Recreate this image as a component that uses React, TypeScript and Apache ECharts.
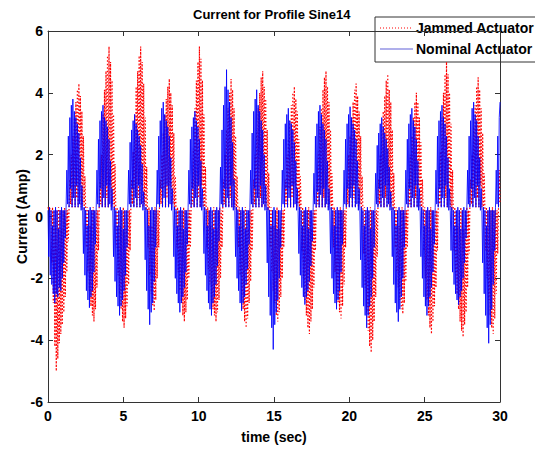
import React, { useEffect, useRef } from "react";
import * as echarts from "echarts";

// sampling step of the recorded signals (s)
const DT = 0.05;
const X_MIN = 0;
const X_MAX = 30;
const X_STEP = 5;
const Y_MIN = -6;
const Y_MAX = 6;
const Y_STEP = 2;

const TITLE = "Current for Profile Sine14";
const X_NAME = "time (sec)";
const Y_NAME = "Current (Amp)";
const SERIES_NAMES = ["Jammed Actuator", "Nominal Actuator"];

// Nominal actuator current (Amp), one row per half-cycle lobe
const nominal = [
  0.2,-1.3,0.3,-1.9,0.2,-2.2,-0.3,-2.5,0.2,-2.8,0.3,-2.5,0.2,-2.6,-0.4,-2.3,0.2,-2.4,0.3,-2.0,0.2,-1.5,0.2,-0.7,
  0.3,1.5,0.4,2.6,0.3,3.2,0.9,3.6,0.3,3.8,0.6,3.4,0.3,3.2,1.0,3.0,0.3,2.7,0.4,1.9,0.2,1.0,
  0.2,-1.2,0.3,-1.9,0.2,-2.4,-0.3,-2.7,0.2,-2.95,0.3,-2.6,0.2,-2.4,0.2,-1.8,0.2,-0.9,
  0.3,1.5,0.4,2.5,0.3,3.1,0.9,3.4,0.3,3.6,0.6,3.2,0.3,3.1,1.0,2.9,0.3,2.5,0.4,1.8,0.2,0.9,
  0.2,-1.3,0.3,-2.1,0.2,-2.6,-0.3,-2.9,0.2,-3.2,0.3,-2.9,0.2,-2.7,-0.4,-2.4,0.2,-1.9,0.2,-1.0,
  0.3,1.5,0.4,2.4,0.3,2.8,0.9,3.1,0.3,3.3,0.6,3.0,0.3,2.8,1.0,2.6,0.3,2.3,0.4,1.7,0.2,0.8,
  0.2,-1.4,0.3,-2.4,0.2,-3.0,-0.3,-3.5,0.2,-3.1,0.3,-2.8,0.2,-2.1,0.2,-1.0,
  0.3,1.5,0.4,2.6,0.3,3.1,0.9,3.5,0.3,3.7,0.6,3.3,0.3,3.1,1.0,2.9,0.3,2.6,0.4,1.9,0.2,0.9,
  0.2,-1.3,0.3,-2.0,0.2,-2.5,-0.3,-2.8,0.2,-3.1,0.3,-2.8,0.2,-2.6,-0.4,-2.3,0.2,-1.8,0.2,-0.9,
  0.3,1.5,0.4,2.5,0.3,2.9,0.9,3.2,0.3,3.4,0.6,3.1,0.3,2.9,1.0,2.5,0.3,1.8,0.2,0.9,
  0.2,-1.2,0.3,-1.9,0.2,-2.4,-0.3,-2.8,0.2,-3.0,0.3,-3.2,0.2,-2.8,-0.4,-2.6,0.2,-2.2,0.3,-1.6,0.2,-0.8,
  0.3,1.6,0.4,2.8,0.3,3.6,0.9,4.2,0.3,4.75,0.6,4.1,0.3,3.7,1.0,3.2,0.3,2.4,0.2,1.2,
  0.2,-1.3,0.3,-2.0,0.2,-2.4,-0.3,-2.8,0.2,-3.05,0.3,-2.8,0.2,-2.6,-0.4,-2.2,0.2,-1.7,0.2,-0.9,
  0.3,1.5,0.4,2.7,0.3,3.4,0.9,3.8,0.3,4.1,0.6,3.6,0.3,3.4,1.0,3.1,0.3,2.8,0.4,2.0,0.2,1.0,
  0.2,-1.5,0.3,-2.6,0.2,-3.2,-0.3,-3.6,0.2,-4.3,0.3,-3.5,0.2,-3.1,-0.4,-2.7,0.2,-2.0,0.2,-1.0,
  0.3,1.5,0.4,2.5,0.3,3.0,0.9,3.3,0.3,3.5,0.6,3.1,0.3,3.0,1.0,2.8,0.3,2.4,0.4,1.8,0.2,0.9,
  0.2,-1.2,0.3,-1.9,0.2,-2.3,-0.3,-2.6,0.2,-2.85,0.3,-2.6,0.2,-2.4,-0.4,-2.1,0.2,-1.6,0.2,-0.8,
  0.3,1.4,0.4,2.6,0.3,3.0,0.8,3.4,0.3,3.6,0.7,3.3,0.3,3.0,0.9,2.8,0.3,2.5,0.4,1.8,0.2,0.9,
  0.2,-1.2,0.3,-2.0,0.2,-2.5,-0.3,-2.8,0.2,-3.0,0.3,-2.7,0.2,-2.4,0.2,-1.8,0.2,-0.9,
  0.3,1.5,0.4,2.5,0.3,3.0,0.9,3.3,0.3,3.55,0.6,3.2,0.3,3.0,1.0,2.8,0.3,2.5,0.4,1.8,0.2,0.9,
  0.2,-1.4,0.3,-2.3,0.2,-2.9,-0.3,-3.2,0.2,-3.6,0.3,-3.2,0.2,-2.9,-0.4,-2.6,0.2,-2.0,0.2,-1.0,
  0.3,1.4,0.4,2.3,0.3,2.7,0.9,3.0,0.3,3.2,0.6,2.9,0.3,2.7,1.0,2.5,0.3,2.2,0.4,1.6,0.2,0.8,
  0.2,-1.3,0.3,-2.2,0.2,-2.8,-0.3,-3.1,0.2,-3.4,0.3,-3.0,0.2,-2.6,0.2,-2.0,0.2,-1.0,
  0.3,1.5,0.4,2.5,0.3,3.0,0.9,3.3,0.3,3.5,0.6,3.1,0.3,2.9,1.0,2.5,0.3,1.8,0.2,0.9,
  0.2,-1.3,0.3,-2.0,0.2,-2.6,-0.3,-2.9,0.2,-3.2,0.3,-2.9,0.2,-2.6,-0.4,-2.3,0.2,-1.8,0.2,-0.9,
  0.3,1.5,0.4,2.6,0.3,3.1,0.9,3.4,0.3,3.6,0.6,3.2,0.3,3.0,1.0,2.6,0.3,1.9,0.2,0.9,
  0.2,-1.1,0.3,-1.8,0.2,-2.2,-0.3,-2.5,0.2,-2.7,0.3,-2.85,0.2,-2.6,-0.4,-2.4,0.2,-2.0,0.3,-1.5,0.2,-0.7,
  0.3,1.5,0.4,2.6,0.3,3.1,0.9,3.5,0.3,3.7,0.6,3.3,0.3,3.1,1.0,2.6,0.3,1.9,0.2,0.9,
  0.2,-1.5,0.3,-2.5,0.2,-3.2,-0.3,-3.6,0.2,-4.1,0.3,-3.5,0.2,-3.0,0.2,-2.2,0.2,-1.1,
  0.3,1.5,0.4,2.6,0.3,3.2,3.7,
];

// Jammed actuator current (Amp), lags the nominal one slightly
const jammed = [
  0.3,0.2,0.3,0.2,
  0.2,-1.5,0.3,-2.8,0.2,-4.2,-0.3,-5.0,0.2,-4.6,0.3,-4.1,0.2,-3.8,-0.4,-3.5,0.2,-3.1,0.3,-2.6,0.2,-1.8,0.2,-0.8,
  0.3,1.2,0.4,2.0,0.3,2.6,0.9,3.2,0.3,3.7,0.6,4.1,0.3,4.3,1.0,3.9,0.3,3.4,0.4,2.6,0.2,1.3,
  0.2,-1.0,0.3,-1.8,0.2,-2.4,-0.3,-2.9,0.2,-3.2,0.3,-3.4,0.2,-3.0,0.2,-2.3,0.2,-1.1,
  0.3,1.2,0.4,2.0,0.3,3.3,0.9,4.1,0.3,4.7,0.6,5.2,0.3,5.5,1.0,5.0,0.3,4.4,0.4,3.3,0.2,1.7,
  0.2,-1.0,0.3,-1.9,0.2,-2.5,-0.3,-3.0,0.2,-3.4,0.3,-3.6,0.2,-3.3,-0.4,-2.9,0.2,-2.2,0.2,-1.1,
  0.3,1.2,0.4,2.1,0.3,3.3,0.9,4.2,0.3,4.7,0.6,5.2,0.3,5.5,1.0,5.0,0.3,4.3,0.4,3.2,0.2,1.6,
  0.2,-1.0,0.3,-1.9,0.2,-2.5,-0.3,-2.9,0.2,-3.05,0.3,-2.7,0.2,-2.0,0.2,-1.0,
  0.3,1.2,0.4,2.0,0.3,2.7,0.9,3.3,0.3,3.8,0.6,4.2,0.3,4.45,1.0,4.0,0.3,3.6,0.4,2.7,0.2,1.3,
  0.2,-1.0,0.3,-1.8,0.2,-2.4,-0.3,-2.8,0.2,-3.2,0.3,-3.4,0.2,-3.1,-0.4,-2.7,0.2,-2.0,0.2,-1.0,
  0.3,1.2,0.4,2.2,0.3,3.5,0.9,4.4,0.3,5.0,0.6,5.5,0.3,5.1,1.0,4.4,0.3,3.3,0.2,1.6,
  0.2,-1.0,0.3,-1.7,0.2,-2.2,-0.3,-2.7,0.2,-3.0,0.3,-3.2,0.2,-3.4,-0.4,-3.1,0.2,-2.7,0.3,-2.0,0.2,-1.0,
  0.3,1.2,0.4,2.0,0.3,2.8,0.9,3.5,0.3,4.0,0.6,4.45,0.3,4.1,1.0,3.5,0.3,2.6,0.2,1.3,
  0.2,-1.0,0.3,-1.9,0.2,-2.5,-0.3,-3.0,0.2,-3.4,0.3,-3.6,0.2,-3.3,-0.4,-2.8,0.2,-2.1,0.2,-1.1,
  0.3,1.2,0.4,2.0,0.3,2.8,0.9,3.5,0.3,4.0,0.6,4.5,0.3,4.7,1.0,4.2,0.3,3.8,0.4,2.8,0.2,1.4,
  0.2,-1.0,0.3,-1.8,0.2,-2.4,-0.3,-2.8,0.2,-3.2,0.3,-3.4,0.2,-3.1,-0.4,-2.6,0.2,-2.0,0.2,-1.0,
  0.3,1.2,0.4,2.0,0.3,2.5,0.9,3.1,0.3,3.6,0.6,4.0,0.3,4.2,1.0,3.8,0.3,3.4,0.4,2.5,0.2,1.3,
  0.2,-1.1,0.3,-2.0,0.2,-2.7,-0.3,-3.2,0.2,-3.6,0.3,-3.8,0.2,-3.4,-0.4,-3.0,0.2,-2.3,0.2,-1.1,
  0.3,1.2,0.4,2.1,0.3,2.9,0.9,3.5,0.3,4.1,0.6,4.5,0.3,4.7,1.0,4.2,0.3,3.7,0.4,2.8,0.2,1.4,
  0.2,-1.0,0.3,-1.8,0.2,-2.4,-0.3,-2.8,0.2,-3.1,0.3,-3.3,0.2,-2.9,0.2,-2.2,0.2,-1.0,
  0.3,1.2,0.4,2.0,0.3,2.6,0.9,3.2,0.3,3.7,0.6,4.1,0.3,4.3,1.0,3.9,0.3,3.4,0.4,2.6,0.2,1.3,
  0.2,-1.2,0.3,-2.3,0.2,-3.1,-0.3,-3.7,0.2,-4.2,0.3,-4.4,0.2,-4.0,-0.4,-3.4,0.2,-2.6,0.2,-1.3,
  0.3,1.2,0.4,2.0,0.3,2.8,0.9,3.4,0.3,3.9,0.6,4.4,0.3,4.6,1.0,4.1,0.3,3.7,0.4,2.8,0.2,1.4,
  0.2,-1.0,0.3,-1.8,0.2,-2.3,-0.3,-2.7,0.2,-3.0,0.3,-3.15,0.2,-2.8,0.2,-2.1,0.2,-1.0,
  0.3,1.2,0.4,2.0,0.3,2.6,0.9,3.2,0.3,3.7,0.6,4.0,0.3,3.7,1.0,3.2,0.3,2.4,0.2,1.2,
  0.2,-1.1,0.3,-2.0,0.2,-2.7,-0.3,-3.2,0.2,-3.6,0.3,-3.8,0.2,-3.4,-0.4,-2.9,0.2,-2.3,0.2,-1.1,
  0.3,1.2,0.4,2.1,0.3,3.2,0.9,4.0,0.3,4.6,0.6,5.0,0.3,4.6,1.0,4.0,0.3,3.0,0.2,1.5,
  0.2,-1.1,0.3,-1.9,0.2,-2.5,-0.3,-3.0,0.2,-3.4,0.3,-3.7,0.2,-3.9,-0.4,-3.5,0.2,-3.1,0.3,-2.3,0.2,-1.2,
  0.3,1.2,0.4,2.0,0.3,2.9,0.9,3.6,0.3,4.2,0.6,4.5,0.3,4.1,1.0,3.5,0.3,2.7,0.2,1.4,
  0.2,-1.1,0.3,-2.0,0.2,-2.7,-0.3,-3.2,0.2,-3.6,0.3,-3.8,0.2,-3.3,0.2,-2.5,0.2,-1.2,
  0.3,1.5,0.4,
];

const FONT = "Liberation Sans, Arial, Helvetica, sans-serif";
const RED = "#ff0000";
const BLUE = "#0000ff";
const AXIS = "#333333";

export default function App() {
  const ref = useRef<HTMLDivElement>(null);

  useEffect(() => {
    if (!ref.current) return;
    const chart = echarts.init(ref.current, undefined, { renderer: "svg" });
    const toPairs = (arr: number[]) => arr.map((v, i) => [+(i * DT).toFixed(2), v]);

    const labelStyle = { color: "#000", fontFamily: FONT, fontWeight: "bold" as const, fontSize: 14 };
    const tickStyle = { show: true, inside: true, length: 5, lineStyle: { color: AXIS } };
    const lineAxis = { show: true, onZero: false, lineStyle: { color: AXIS, width: 1 } };

    chart.setOption({
      animation: false,
      backgroundColor: "#fff",
      grid: { left: 48, right: 35, top: 31, bottom: 37, containLabel: false },
      xAxis: [
        {
          type: "value", min: X_MIN, max: X_MAX, interval: X_STEP, position: "bottom",
          axisLine: lineAxis, axisTick: tickStyle, splitLine: { show: false },
          axisLabel: { ...labelStyle, margin: 7 },
          name: X_NAME, nameLocation: "middle", nameGap: 28, nameMoveOverlap: false,
          nameTextStyle: { ...labelStyle },
        },
        {
          type: "value", min: X_MIN, max: X_MAX, interval: X_STEP, position: "top",
          axisLine: lineAxis, axisTick: tickStyle, splitLine: { show: false },
          axisLabel: { show: false },
        },
      ],
      yAxis: [
        {
          type: "value", min: Y_MIN, max: Y_MAX, interval: Y_STEP, position: "left",
          axisLine: lineAxis, axisTick: tickStyle, splitLine: { show: false },
          axisLabel: { ...labelStyle, margin: 5 },
          name: Y_NAME, nameLocation: "middle", nameGap: 19, nameRotate: 90, nameMoveOverlap: false,
          nameTextStyle: { ...labelStyle },
        },
        {
          type: "value", min: Y_MIN, max: Y_MAX, interval: Y_STEP, position: "right",
          axisLine: lineAxis, axisTick: tickStyle, splitLine: { show: false },
          axisLabel: { show: false },
        },
      ],
      series: [
        {
          name: SERIES_NAMES[0], type: "line", data: toPairs(jammed), showSymbol: false, symbol: "none",
          lineStyle: { color: RED, width: 1.2, type: [1.5, 2] }, z: 2,
        },
        {
          name: SERIES_NAMES[1], type: "line", data: toPairs(nominal), showSymbol: false, symbol: "none",
          lineStyle: { color: BLUE, width: 1, opacity: 0.85 }, z: 3,
        },
      ],
      graphic: [
        {
          type: "text", left: 273 - 80, top: 8, z: 10,
          style: { text: TITLE, x: 80, textAlign: "center", fill: "#000", font: `bold 13px ${FONT}` },
        },
        {
          type: "group", z: 20,
          children: [
            { type: "rect", shape: { x: 375, y: 17, width: 200, height: 45 }, style: { fill: "#fff", stroke: AXIS, lineWidth: 1 } },
            { type: "line", shape: { x1: 380, y1: 28, x2: 413, y2: 28 }, style: { stroke: RED, lineWidth: 1, lineDash: [1, 2] } },
            { type: "line", shape: { x1: 380, y1: 49, x2: 413, y2: 49 }, style: { stroke: "#6060d8", lineWidth: 1.2 } },
            { type: "text", x: 416, y: 28, style: { text: SERIES_NAMES[0], fill: "#000", font: `bold 14px ${FONT}`, textVerticalAlign: "middle" } },
            { type: "text", x: 416, y: 49, style: { text: SERIES_NAMES[1], fill: "#000", font: `bold 14px ${FONT}`, textVerticalAlign: "middle" } },
          ],
        },
      ],
    });
    return () => chart.dispose();
  }, []);

  return <div ref={ref} style={{ position: "absolute", left: 0, top: 0, width: 535, height: 449 }} />;
}
